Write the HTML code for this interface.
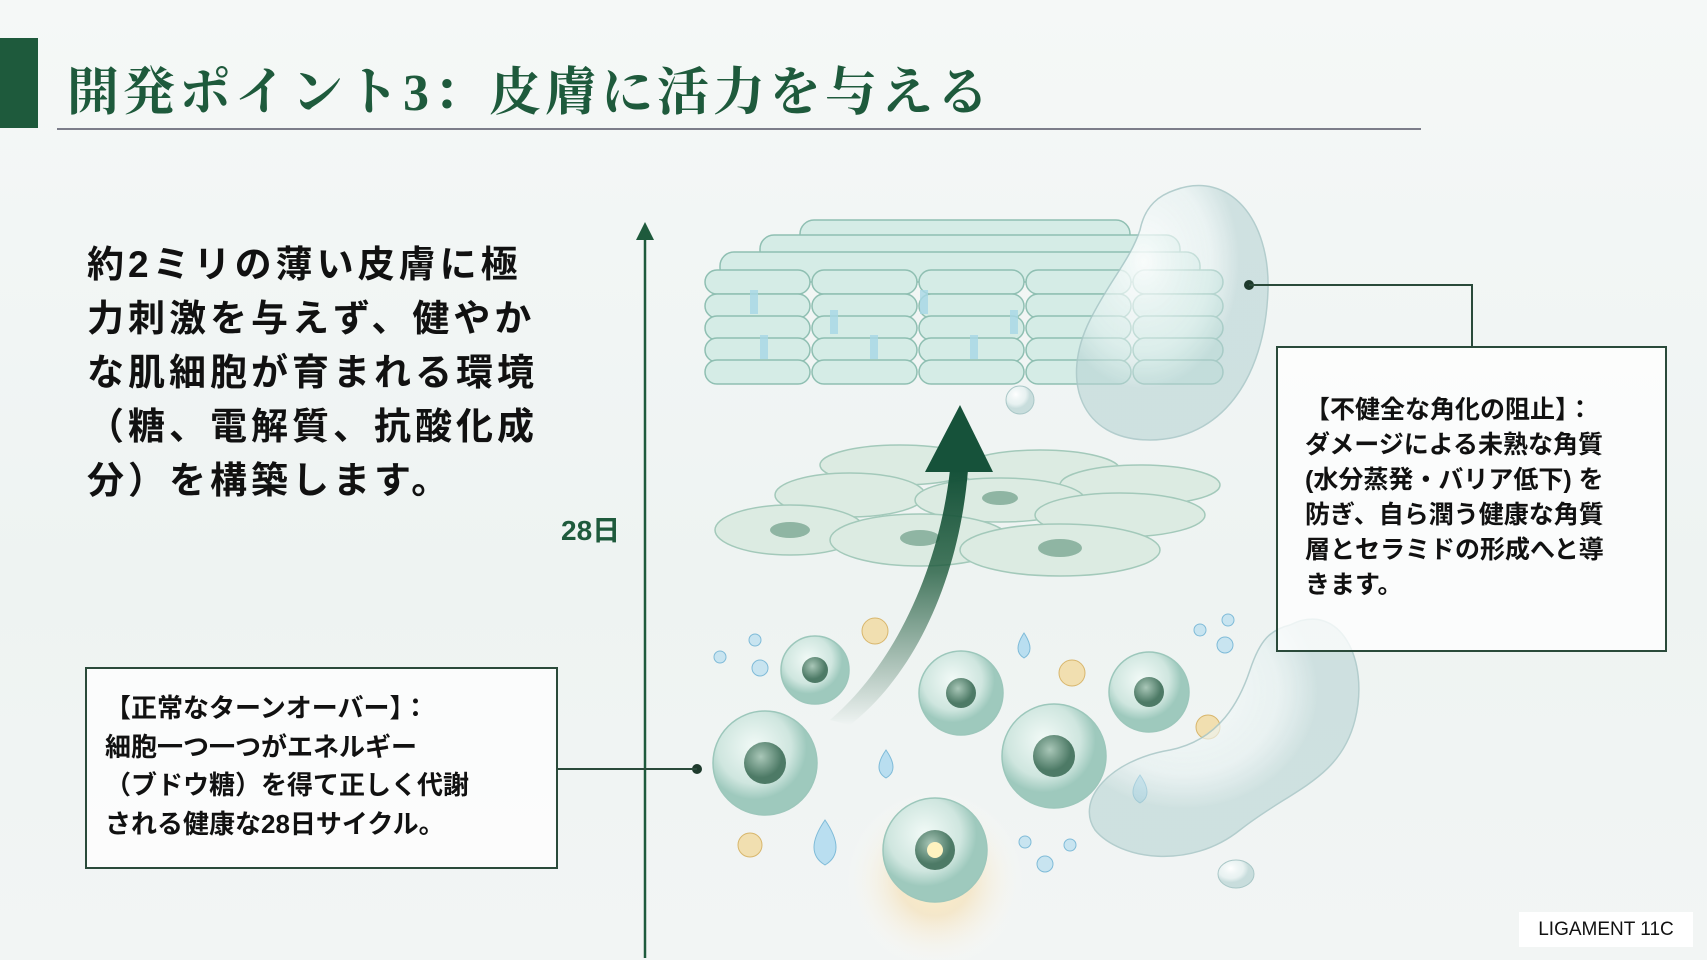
<!DOCTYPE html>
<html><head><meta charset="utf-8"><style>
*{margin:0;padding:0;box-sizing:border-box}
body{width:1707px;height:960px;overflow:hidden;background:linear-gradient(180deg,#f5f8f7,#eef3f2 60%,#f2f5f4);font-family:"Liberation Sans","Noto Sans CJK JP",sans-serif;position:relative;color:#111}
.abs{position:absolute}
.title{left:67px;top:50px;font-size:52px;font-weight:bold;color:#1e5a3c;font-family:"Liberation Serif","Noto Serif CJK SC",serif;letter-spacing:4px;white-space:nowrap}
.para{left:87px;top:238px;font-size:37px;font-weight:bold;line-height:54px;width:600px;letter-spacing:4px;white-space:nowrap}
.box{border:2px solid #2a4a3a;background:rgba(255,255,255,0.75);font-weight:bold}
.lb{left:85px;top:667px;width:473px;height:202px;font-size:26px;line-height:38.5px;padding:20px 0 0 18px}
.rb{left:1276px;top:346px;width:391px;height:306px;font-size:25px;line-height:35px;padding:45px 0 0 27px}
</style></head><body>
<svg class="abs" style="left:0;top:0" width="1707" height="960">
<defs>
<radialGradient id="cell" cx="0.4" cy="0.35"><stop offset="0" stop-color="#f2faf7"/><stop offset="0.7" stop-color="#cfe6df"/><stop offset="1" stop-color="#9ec9bd"/></radialGradient>
<radialGradient id="nuc" cx="0.4" cy="0.35"><stop offset="0" stop-color="#a9c7b8"/><stop offset="1" stop-color="#4d7a66"/></radialGradient>
<radialGradient id="glow"><stop offset="0" stop-color="#fff6d0"/><stop offset="0.4" stop-color="#f6deb0" stop-opacity="0.6"/><stop offset="1" stop-color="#fff" stop-opacity="0"/></radialGradient>
<linearGradient id="arr" x1="0" y1="1" x2="0" y2="0"><stop offset="0" stop-color="#1e5a3c" stop-opacity="0"/><stop offset="0.6" stop-color="#1e5a3c" stop-opacity="0.8"/><stop offset="1" stop-color="#16523a"/></linearGradient>
<radialGradient id="drop" cx="0.35" cy="0.3"><stop offset="0" stop-color="#fff"/><stop offset="0.7" stop-color="#e3f0f0" stop-opacity="0.6"/><stop offset="1" stop-color="#b7d3d3" stop-opacity="0.7"/></radialGradient>
</defs>
<rect x="0" y="38" width="38" height="90" fill="#1e5a3c"/>
<line x1="57" y1="129" x2="1421" y2="129" stroke="#556" stroke-width="1.5"/>
<line x1="645" y1="235" x2="645" y2="958" stroke="#1e5a3c" stroke-width="2.5"/>
<polygon points="645,222 636,240 654,240" fill="#1e5a3c"/>
<g stroke="#8fbfb2" stroke-width="1.5" fill="#d5ece6">
<rect x="800" y="220" width="330" height="30" rx="14"/>
<rect x="760" y="235" width="420" height="30" rx="14"/>
<rect x="720" y="252" width="480" height="30" rx="14"/>
<g id="r"><rect x="705" y="270" width="105" height="24" rx="12"/><rect x="812" y="270" width="105" height="24" rx="12"/><rect x="919" y="270" width="105" height="24" rx="12"/><rect x="1026" y="270" width="105" height="24" rx="12"/><rect x="1133" y="270" width="90" height="24" rx="12"/></g>
<use href="#r" y="24"/><use href="#r" y="46"/><use href="#r" y="68"/><use href="#r" y="90"/>
</g>
<g fill="#a8d8e6" opacity="0.8"><rect x="750" y="290" width="8" height="24"/><rect x="830" y="310" width="8" height="24"/><rect x="920" y="290" width="8" height="24"/><rect x="1010" y="310" width="8" height="24"/><rect x="760" y="335" width="8" height="24"/><rect x="870" y="335" width="8" height="24"/><rect x="970" y="335" width="8" height="24"/></g>
<path d="M1175,190 C1230,170 1270,220 1268,290 C1265,380 1220,440 1150,440 C1080,440 1060,380 1090,320 C1110,280 1130,260 1140,230 C1145,205 1160,195 1175,190Z" fill="url(#drop)" stroke="#a9c7c7" stroke-width="1.5" opacity="0.85"/>
<circle cx="1020" cy="400" r="14" fill="url(#drop)" stroke="#a9c7c7"/>
<g stroke="#9fc7b8" stroke-width="1.5" fill="#dcebe2" opacity="0.95">
<ellipse cx="900" cy="465" rx="80" ry="20"/><ellipse cx="1040" cy="470" rx="80" ry="20"/><ellipse cx="1140" cy="485" rx="80" ry="20"/>
<ellipse cx="850" cy="495" rx="75" ry="22"/><ellipse cx="1000" cy="500" rx="85" ry="22"/><ellipse cx="1120" cy="515" rx="85" ry="22"/>
<ellipse cx="790" cy="530" rx="75" ry="25"/><ellipse cx="920" cy="540" rx="90" ry="26"/><ellipse cx="1060" cy="550" rx="100" ry="26"/>
</g>
<g fill="#8fb5a3"><ellipse cx="790" cy="530" rx="20" ry="8"/><ellipse cx="920" cy="538" rx="20" ry="8"/><ellipse cx="1060" cy="548" rx="22" ry="9"/><ellipse cx="1000" cy="498" rx="18" ry="7"/></g>
<path d="M830,720 C900,660 940,560 950,470 L968,470 C960,570 920,670 850,725Z" fill="url(#arr)"/>
<polygon points="925,472 993,472 960,405" fill="#16523a"/>
<circle cx="935" cy="880" r="90" fill="url(#glow)"/>
<g stroke="#9cc7bb" stroke-width="1.5">
<circle cx="815" cy="670" r="34" fill="url(#cell)"/><circle cx="961" cy="693" r="42" fill="url(#cell)"/><circle cx="1149" cy="692" r="40" fill="url(#cell)"/>
<circle cx="765" cy="763" r="52" fill="url(#cell)"/><circle cx="1054" cy="756" r="52" fill="url(#cell)"/><circle cx="935" cy="850" r="52" fill="url(#cell)"/>
</g>
<g fill="url(#nuc)"><circle cx="815" cy="670" r="13"/><circle cx="961" cy="693" r="15"/><circle cx="1149" cy="692" r="15"/><circle cx="765" cy="763" r="21"/><circle cx="1054" cy="756" r="21"/><circle cx="935" cy="850" r="20"/></g>
<circle cx="935" cy="850" r="8" fill="#fff3c0"/>
<g fill="#f1dfb0" stroke="#d8b66c"><circle cx="875" cy="631" r="13"/><circle cx="1072" cy="673" r="13"/><circle cx="1208" cy="727" r="12"/><circle cx="750" cy="845" r="12"/></g>
<g fill="#b9def0" stroke="#7fbbd8"><path d="M1024,633 q12,18 0,25 q-12,-7 0,-25Z"/><path d="M886,750 q14,20 0,28 q-14,-8 0,-28Z"/><path d="M1140,775 q14,20 0,28 q-14,-8 0,-28Z"/><path d="M825,820 q22,32 0,45 q-22,-13 0,-45Z"/></g>
<g fill="#c8e4f0" stroke="#7fbbd8"><circle cx="760" cy="668" r="8"/><circle cx="720" cy="657" r="6"/><circle cx="755" cy="640" r="6"/><circle cx="1225" cy="645" r="8"/><circle cx="1200" cy="630" r="6"/><circle cx="1228" cy="620" r="6"/><circle cx="1045" cy="864" r="8"/><circle cx="1025" cy="842" r="6"/><circle cx="1070" cy="845" r="6"/></g>
<path d="M1290,625 C1340,600 1370,660 1355,720 C1340,780 1290,790 1240,830 C1190,870 1120,860 1095,830 C1075,800 1110,760 1170,750 C1220,740 1240,700 1250,670 C1260,640 1270,630 1290,625Z" fill="url(#drop)" stroke="#a9c7c7" stroke-width="1.5" opacity="0.85"/>
<ellipse cx="1236" cy="874" rx="18" ry="14" fill="url(#drop)" stroke="#a9c7c7"/>
<circle cx="1249" cy="285" r="5" fill="#1e3a2c"/>
<polyline points="1249,285 1472,285 1472,346" fill="none" stroke="#2a4a3a" stroke-width="2"/>
<circle cx="697" cy="769" r="5" fill="#1e3a2c"/>
<line x1="557" y1="769" x2="697" y2="769" stroke="#2a4a3a" stroke-width="2"/>
</svg>
<div class="abs title">開発ポイント3：皮膚に活力を与える</div>
<div class="abs para">約2ミリの薄い皮膚に極<br>力刺激を与えず、健やか<br>な肌細胞が育まれる環境<br>（糖、電解質、抗酸化成<br>分）を構築します。</div>
<div class="abs" style="left:561px;top:509px;font-size:28px;font-weight:bold;color:#1e5a3c">28日</div>
<div class="abs box lb">【正常なターンオーバー】：<br>細胞一つ一つがエネルギー<br>（ブドウ糖）を得て正しく代謝<br>される健康な28日サイクル。</div>
<div class="abs box rb">【不健全な角化の阻止】：<br>ダメージによる未熟な角質<br>(水分蒸発・バリア低下) を<br>防ぎ、自ら潤う健康な角質<br>層とセラミドの形成へと導<br>きます。</div>
<div class="abs" style="left:1519px;top:912px;width:174px;height:35px;background:#fff;font-size:19px;line-height:35px;text-align:center">LIGAMENT 11C</div>
</body></html>
